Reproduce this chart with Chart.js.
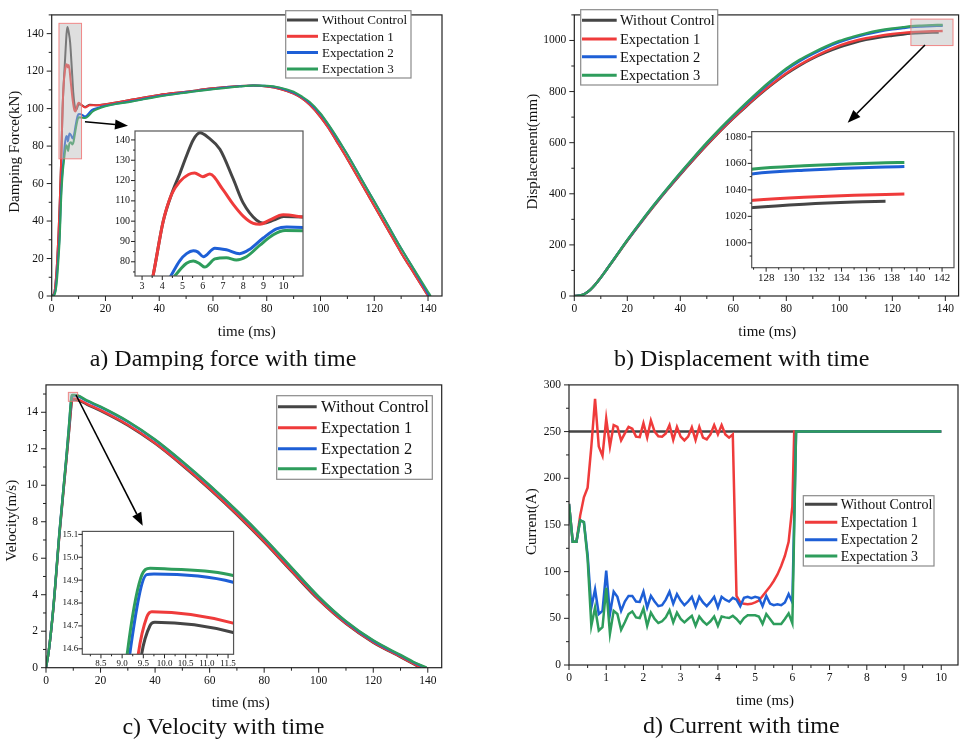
<!DOCTYPE html>
<html>
<head>
<meta charset="utf-8">
<script src="https://cdn.jsdelivr.net/npm/chart.js@4.4.1/dist/chart.umd.min.js"></script>
<style>
body { margin: 0; background: #fff; }
#wrap { position: relative; width: 960px; height: 741px; overflow: hidden; background: #fff; }
canvas { position: absolute; }
</style>
</head>
<body>
<div id="wrap">
  <canvas id="cA" width="480" height="370" style="left:0px;top:0px"></canvas>
  <canvas id="cB" width="480" height="370" style="left:480px;top:0px"></canvas>
  <canvas id="cC" width="480" height="371" style="left:0px;top:370px"></canvas>
  <canvas id="cD" width="480" height="371" style="left:480px;top:370px"></canvas>
  <canvas id="iA" width="205" height="180" style="left:105px;top:120px"></canvas>
  <canvas id="iB" width="240" height="170" style="left:720px;top:120px"></canvas>
  <canvas id="iC" width="185" height="155" style="left:55px;top:522px"></canvas>
</div>
<script>
// ---- series names / colours ----
const seriesNames = ['Without Control', 'Expectation 1', 'Expectation 2', 'Expectation 3'];
const seriesColors = ['#454545', '#ef3b3b', '#1e5fd6', '#2e9d5c'];

// ---- a) damping force (kN) vs time (ms) ----
const forceTimeWithout = [0, 1, 1.5, 2, 2.5, 3, 3.55, 4.04, 4.45, 4.87, 5.2, 5.53, 5.86, 6.3, 6.85, 7.5, 8.0, 8.66, 9.0, 9.5, 10.0, 11.0, 12.4, 14.2, 17, 20, 30, 40, 50, 60, 70, 75, 80, 85, 90, 93, 96, 100, 103, 106, 110, 115, 120, 125, 130, 135, 140];
const forceWithout = [0, 2, 8, 18, 32, 50, 73.5, 99.7, 113, 123.5, 132.2, 140, 143.5, 141, 135.4, 121, 109, 100.5, 99, 100.5, 102.3, 102, 100.9, 102, 101.8, 102.3, 104.8, 107.3, 109, 110.8, 112, 112.3, 111.8, 110.5, 108, 105.5, 102, 95.5, 89.5, 82.5, 73, 60.5, 48, 35.5, 23, 11.5, 0];
const forceTimeExp1 = [0, 1, 1.5, 2, 2.5, 3, 3.55, 4.04, 4.45, 4.87, 5.3, 5.6, 6.0, 6.35, 7.0, 7.5, 8.0, 8.5, 8.83, 9.3, 9.98, 11.0, 12.4, 14.2, 17, 20, 30, 40, 50, 60, 70, 75, 80, 85, 90, 93, 96, 100, 103, 106, 110, 115, 120, 125, 130, 135, 140];
const forceExp1 = [0, 2, 8, 18, 32, 50, 73.5, 99.7, 113, 119.5, 123, 123.7, 121.9, 123.2, 115.5, 108.4, 102.5, 98.9, 98.5, 100.5, 103.1, 102, 100.6, 101.8, 101.8, 102.3, 104.8, 107.3, 109, 110.8, 112, 112.3, 111.8, 110.5, 108, 105.5, 102, 95.5, 89.5, 82.5, 73, 60.5, 48, 35.5, 23, 11.5, 0];
const forceTimeExp2 = [0, 1, 1.5, 2, 2.5, 3, 3.5, 4.0, 4.42, 4.87, 5.2, 5.53, 5.75, 6.03, 6.6, 7.17, 7.83, 8.33, 8.99, 9.65, 10.15, 11, 12.4, 14.9, 17, 20, 30, 40, 50, 60, 70, 75, 80, 85, 90, 93, 96, 100, 103, 106, 110, 115, 120, 125, 130, 135, 140.5];
const forceExp2 = [0, 1, 4, 12, 22, 34, 55, 66, 73, 80.6, 84, 85.4, 84.9, 82.5, 86.7, 85.9, 84, 86.2, 91.7, 96.2, 97.1, 96.9, 95.8, 99.2, 100.3, 101.5, 104, 106.7, 108.7, 110.5, 111.9, 112.3, 112.1, 111, 108.5, 106.2, 103, 97, 91.2, 84.5, 75.5, 63, 50.5, 38, 25.5, 13.5, 0];
const forceTimeExp3 = [0, 1, 1.5, 2, 2.5, 3, 3.5, 4.0, 4.62, 5.2, 5.53, 5.86, 6.1, 6.6, 7.17, 7.66, 8.16, 8.83, 9.49, 10.07, 11, 12.4, 15.4, 17, 20, 30, 40, 50, 60, 70, 75, 80, 85, 90, 93, 96, 100, 103, 106, 110, 115, 120, 125, 130, 135, 140, 141];
const forceExp3 = [0, 0.5, 3, 9, 19, 31, 51, 64, 73, 79.3, 80.4, 79, 77.4, 81.4, 82, 80.9, 82.5, 88.2, 93.3, 95.4, 95.3, 95, 98.6, 99.8, 101.3, 103.8, 106.5, 108.5, 110.3, 111.8, 112.3, 112.2, 111.2, 109, 106.5, 103.5, 97.5, 91.5, 85, 75.5, 63, 50.5, 38, 25.5, 13.8, 2.3, 0];

// ---- b) displacement (mm) vs time (ms) ----
const dispTime = [0, 2, 4, 6, 8, 10, 12, 15, 20, 25, 30, 35, 40, 45, 50, 55, 60, 65, 70, 75, 80, 85, 90, 95, 100, 105, 110, 115, 120, 124, 127, 131, 135, 137.5, 139];
const dispWithout = [0, 2, 9, 24, 46, 72, 100.5, 144, 216.5, 285, 351, 414.5, 475, 533.5, 590, 644, 695, 742.5, 788, 830, 868.5, 901.5, 929.5, 953, 973, 989, 1002, 1011.5, 1018.5, 1023.5, 1026.6, 1029.2, 1030.8, 1031.3];
const dispExp1 = [0, 2, 9, 24, 46, 72, 100.5, 144, 217, 286, 352, 415.5, 476.5, 535, 592, 646, 697, 745, 791, 833, 872, 905, 933, 958, 980, 996, 1008.5, 1018, 1025, 1029.5, 1032.2, 1034.5, 1036, 1036.5, 1036.8];
const dispExp2 = [0, 2, 9, 24, 46, 72, 101, 145, 218.5, 288, 355, 418.5, 480.5, 540, 597.5, 652.5, 704, 753, 801, 845, 885.5, 919, 947, 972, 993, 1010, 1024, 1035, 1043.5, 1048.5, 1052.2, 1054.8, 1056.5, 1057.2, 1057.6];
const dispExp3 = [0, 2, 9, 24, 46, 72, 101, 145, 219, 289, 356, 420, 482, 542, 600, 655, 707, 757, 805, 849, 890, 924, 952, 977, 998, 1014, 1028, 1039, 1047, 1052, 1055.8, 1058.2, 1059.8, 1060.4, 1060.7];

// ---- c) velocity (m/s) vs time (ms) ----
const velTimeWithout = [0, 1, 2.6, 5, 7.5, 8.5, 9.46, 9.66, 9.77, 11.62, 15, 20, 30, 40, 50, 60, 70, 80, 90, 100, 110, 120, 130, 135, 137.2];
const velWithout = [0, 0.9, 3.1, 7.4, 11.4, 13.0, 14.576, 14.702, 14.716, 14.671, 14.42, 14.08, 13.28, 12.28, 11.08, 9.78, 8.38, 6.88, 5.28, 3.71, 2.4, 1.37, 0.58, 0.18, 0];
const velTimeExp1 = [0, 1, 2.6, 5, 7.5, 8.5, 9.38, 9.58, 9.7, 11.62, 15, 20, 30, 40, 50, 60, 70, 80, 90, 100, 110, 120, 130, 135, 137.5];
const velExp1 = [0, 0.9, 3.1, 7.45, 11.45, 13.1, 14.576, 14.738, 14.762, 14.712, 14.46, 14.12, 13.32, 12.32, 11.12, 9.82, 8.42, 6.92, 5.32, 3.75, 2.43, 1.4, 0.6, 0.2, 0];
const velTimeExp2 = [0, 1, 2.6, 5, 7.5, 8.5, 9.18, 9.58, 9.75, 11.62, 15, 20, 30, 40, 50, 60, 70, 80, 90, 100, 110, 120, 130, 135, 139.3];
const velExp2 = [0, 0.9, 3.14, 7.55, 11.6, 13.35, 14.576, 14.924, 14.927, 14.891, 14.62, 14.28, 13.48, 12.48, 11.28, 9.98, 8.58, 7.08, 5.47, 3.87, 2.52, 1.47, 0.67, 0.28, 0];
const velTimeExp3 = [0, 1, 2.6, 5, 7.5, 8.5, 9.12, 9.44, 9.66, 10, 11.62, 15, 20, 30, 40, 50, 60, 70, 80, 90, 100, 110, 120, 130, 135, 139.6];
const velExp3 = [0, 0.9, 3.14, 7.55, 11.6, 13.4, 14.578, 14.91, 14.952, 14.95, 14.92, 14.65, 14.31, 13.51, 12.51, 11.31, 10.01, 8.61, 7.11, 5.5, 3.9, 2.55, 1.5, 0.7, 0.3, 0];

// ---- d) current (A) vs time (ms) ----
const currentTimeWithout = [0, 10];
const currentWithout = [250, 250];
const currentTimeExp1 = [0, 0.1, 0.2, 0.3, 0.4, 0.5, 0.6, 0.7, 0.8, 0.9, 1, 1.1, 1.2, 1.3, 1.4, 1.5, 1.6, 1.7, 1.8, 1.9, 2, 2.1, 2.2, 2.3, 2.4, 2.5, 2.6, 2.7, 2.8, 2.9, 3, 3.1, 3.2, 3.3, 3.4, 3.5, 3.6, 3.7, 3.8, 3.9, 4, 4.1, 4.2, 4.3, 4.4, 4.5, 4.6, 4.7, 4.8, 4.9, 5, 5.1, 5.2, 5.3, 5.4, 5.5, 5.6, 5.7, 5.8, 5.9, 6, 6.05, 10];
const currentExp1 = [172.5, 132, 132, 160, 179.6, 190, 234, 285, 234, 224,
  264, 234, 257, 255, 240.5, 248, 255, 253, 244.6, 244,
  259, 243.5, 262, 250, 245, 244.6, 248, 257, 241, 255,
  244.6, 240.5, 244.6, 254.5, 241, 255, 243.5, 241.7, 247, 257,
  247, 257, 247, 243.5, 247, 74, 67, 65.5, 65, 65.5,
  67, 69, 74, 79, 84, 90, 97, 106, 117, 132,
  170, 250, 250];
const currentTime = [0, 0.1, 0.2, 0.3, 0.4, 0.5, 0.6, 0.7, 0.8, 0.9, 1, 1.1, 1.2, 1.3, 1.4, 1.5, 1.6, 1.7, 1.8, 1.9, 2, 2.1, 2.2, 2.3, 2.4, 2.5, 2.6, 2.7, 2.8, 2.9, 3, 3.1, 3.2, 3.3, 3.4, 3.5, 3.6, 3.7, 3.8, 3.9, 4, 4.1, 4.2, 4.3, 4.4, 4.5, 4.6, 4.7, 4.8, 4.9, 5, 5.1, 5.2, 5.3, 5.4, 5.5, 5.6, 5.7, 5.8, 5.9, 6, 6.1, 10];
const currentExp2 = [172.5, 132, 132, 155, 153, 118, 61.6, 81, 54.6, 58,
  101, 54.6, 78.5, 73, 58, 68, 74, 74, 68, 67.6,
  78.5, 61.6, 74, 68, 63, 64, 70, 78.5, 65.7, 76,
  69, 64, 68, 73, 62, 73, 67, 63, 67.6, 73,
  61.6, 73, 70, 68, 72, 70, 63, 72, 73, 71.6,
  73, 72, 63, 74, 65.7, 64, 65, 64, 67, 76,
  67, 250, 250];
const currentExp3 = [172.5, 132, 132, 155, 153, 114, 42, 61.6, 37, 40.5,
  82.7, 33.5, 58, 54.6, 37.7, 45.7, 54.6, 57.4, 51, 50.3,
  60.5, 42, 56, 49.3, 45, 46.8, 51, 58.7, 45.7, 56,
  49.3, 45.7, 49.3, 52.6, 42, 52, 46.8, 43.3, 46.8, 52,
  42, 52, 51, 50.3, 52.6, 49.3, 44.7, 50.3, 53.3, 53.3,
  53.3, 52, 44, 54.6, 49.3, 44, 44, 44, 49.3, 55.3,
  44.7, 250, 250];

const SERIF = "'Liberation Serif', 'Times New Roman', serif";
Chart.defaults.font.family = SERIF;
Chart.defaults.color = '#111';

function pts(xs, ys) {
  return ys.map((v, i) => ({ x: xs[i], y: v }));
}

function markTicks(ctx, scale, minor, major, horizontal, edge, big, small) {
  if (!minor) return;
  const i0 = Math.ceil(scale.min / minor - 1e-9);
  ctx.strokeStyle = '#222';
  ctx.lineWidth = 1;
  for (let i = i0; i * minor <= scale.max + 1e-9; i++) {
    const v = i * minor;
    const isMajor = Math.abs(v / major - Math.round(v / major)) < 1e-6;
    const len = isMajor ? big : small;
    const p = scale.getPixelForValue(v);
    ctx.beginPath();
    if (horizontal) { ctx.moveTo(p, edge); ctx.lineTo(p, edge + len); }
    else { ctx.moveTo(edge, p); ctx.lineTo(edge - len, p); }
    ctx.stroke();
  }
}

function drawArrow(ctx, a) {
  const [x1, y1, x2, y2] = a;
  const ang = Math.atan2(y2 - y1, x2 - x1), L = 13, W = 5;
  const bx = x2 - L * Math.cos(ang), by = y2 - L * Math.sin(ang);
  ctx.strokeStyle = '#000';
  ctx.lineWidth = 1.6;
  ctx.beginPath(); ctx.moveTo(x1, y1); ctx.lineTo(bx, by); ctx.stroke();
  ctx.fillStyle = '#000';
  ctx.beginPath();
  ctx.moveTo(x2, y2);
  ctx.lineTo(bx + W * Math.sin(ang), by - W * Math.cos(ang));
  ctx.lineTo(bx - W * Math.sin(ang), by + W * Math.cos(ang));
  ctx.closePath();
  ctx.fill();
}

function drawLegend(ctx, chart, L) {
  ctx.fillStyle = '#fff';
  ctx.fillRect(L.x, L.y, L.w, L.h);
  ctx.strokeStyle = '#8a8a8a';
  ctx.lineWidth = 1.2;
  ctx.strokeRect(L.x, L.y, L.w, L.h);
  ctx.font = L.size + 'px ' + SERIF;
  ctx.textBaseline = 'middle';
  ctx.textAlign = 'left';
  chart.data.datasets.forEach((ds, i) => {
    const yy = L.rows[i];
    ctx.strokeStyle = ds.borderColor;
    ctx.lineWidth = 3;
    ctx.beginPath(); ctx.moveTo(L.x1, yy); ctx.lineTo(L.x2, yy); ctx.stroke();
    ctx.fillStyle = '#111';
    ctx.fillText(ds.label, L.tx, yy + 1);
  });
}

// frame, minor ticks, legend, zoom box, arrow, titles
const decor = {
  id: 'decor',
  beforeDraw(chart, args, o) {
    if (!o.white) return;
    const a = chart.chartArea, ctx = chart.ctx;
    ctx.save();
    ctx.fillStyle = '#fff';
    ctx.fillRect(a.left, a.top, a.right - a.left, a.bottom - a.top);
    ctx.restore();
  },
  afterDraw(chart, args, o) {
    const ctx = chart.ctx, a = chart.chartArea, sx = chart.scales.x, sy = chart.scales.y;
    ctx.save();
    if (o.zoomBox) {
      const b = o.zoomBox;
      const l = sx.getPixelForValue(b[0]), r = sx.getPixelForValue(b[1]);
      const t = sy.getPixelForValue(b[3]), btm = sy.getPixelForValue(b[2]);
      ctx.fillStyle = 'rgba(185,185,185,0.45)';
      ctx.fillRect(l, t, r - l, btm - t);
      ctx.strokeStyle = 'rgba(240,110,110,0.8)';
      ctx.lineWidth = 1;
      ctx.strokeRect(l, t, r - l, btm - t);
    }
    ctx.strokeStyle = o.frame || '#222';
    ctx.lineWidth = 1.2;
    ctx.strokeRect(a.left, a.top, a.right - a.left, a.bottom - a.top);
    const big = o.inset ? 4 : 5, small = o.inset ? 2 : 3;
    markTicks(ctx, sx, o.xMinor, o.xMajor, true, a.bottom, big, small);
    markTicks(ctx, sy, o.yMinor, o.yMajor, false, a.left, big, small);
    if (o.legend) drawLegend(ctx, chart, o.legend);
    if (o.arrow) drawArrow(ctx, o.arrow);
    ctx.fillStyle = '#111';
    ctx.textAlign = 'center';
    ctx.textBaseline = 'middle';
    if (o.xTitle) {
      ctx.font = '15px ' + SERIF;
      ctx.fillText(o.xTitle.text, o.xTitle.x, o.xTitle.y);
    }
    if (o.yTitle) {
      ctx.font = '15px ' + SERIF;
      ctx.save();
      ctx.translate(o.yTitle.x, o.yTitle.y);
      ctx.rotate(-Math.PI / 2);
      ctx.fillText(o.yTitle.text, 0, 0);
      ctx.restore();
    }
    if (o.caption) {
      ctx.font = '24px ' + SERIF;
      ctx.textBaseline = 'alphabetic';
      ctx.fillText(o.caption.text, o.caption.x, o.caption.y);
    }
    ctx.restore();
  }
};

function panel(id, p) {
  const datasets = p.series.map((s, i) => ({
    label: seriesNames[i],
    data: s,
    borderColor: seriesColors[i],
    backgroundColor: seriesColors[i],
    borderWidth: p.lw,
    pointRadius: 0,
    fill: false,
    tension: 0,
    cubicInterpolationMode: p.smooth ? 'monotone' : 'default',
    order: 4 - i
  }));
  const axis = (ax, fit) => ({
    type: 'linear',
    min: ax.min,
    max: ax.max,
    afterFit: fit,
    grid: { display: false, drawTicks: false },
    border: { display: false },
    ticks: {
      stepSize: ax.step,
      includeBounds: false,
      autoSkip: false,
      maxRotation: 0,
      padding: ax.pad,
      color: '#111',
      font: { size: p.tickSize },
      callback: ax.fmt ? (v) => v.toFixed(ax.fmt) : undefined
    }
  });
  return new Chart(document.getElementById(id), {
    type: 'line',
    data: { datasets },
    options: {
      responsive: false,
      animation: false,
      events: [],
      layout: { padding: { top: p.top, right: p.right, left: 0, bottom: 0 } },
      plugins: {
        legend: { display: false },
        tooltip: { enabled: false },
        decor: p.decor
      },
      scales: {
        x: axis(p.x, (s) => { s.height = p.xh; }),
        y: axis(p.y, (s) => { s.width = p.yw; })
      }
    },
    plugins: [decor]
  });
}

const forceSeries = [pts(forceTimeWithout, forceWithout), pts(forceTimeExp1, forceExp1), pts(forceTimeExp2, forceExp2), pts(forceTimeExp3, forceExp3)];
const dispSeries = [pts(dispTime, dispWithout), pts(dispTime, dispExp1), pts(dispTime, dispExp2), pts(dispTime, dispExp3)];
const velSeries = [pts(velTimeWithout, velWithout), pts(velTimeExp1, velExp1), pts(velTimeExp2, velExp2), pts(velTimeExp3, velExp3)];
const currentSeries = [pts(currentTimeWithout, currentWithout), pts(currentTimeExp1, currentExp1), pts(currentTime, currentExp2), pts(currentTime, currentExp3)];

// a) damping force
panel('cA', {
  series: forceSeries, lw: 2, smooth: true, tickSize: 11.5,
  top: 7, right: 38, yw: 51.7, xh: 74,
  x: { min: 0, max: 145.2, step: 20, pad: 6 },
  y: { min: 0, max: 150, step: 20, pad: 8 },
  decor: {
    xMinor: 10, xMajor: 20, yMinor: 10, yMajor: 20,
    zoomBox: [2.7, 11.1, 73.2, 145.5],
    arrow: [85, 121.7, 128, 125.7],
    legend: { x: 285.7, y: 10.7, w: 125.3, h: 67.3, rows: [20, 36.3, 52.5, 69], x1: 287, x2: 318, tx: 322, size: 13 },
    xTitle: { text: 'time (ms)', x: 246.7, y: 332 },
    yTitle: { text: 'Damping Force(kN)', x: 15, y: 151.7 },
    caption: { text: 'a) Damping force with time', x: 223, y: 366 }
  }
});
panel('iA', {
  series: forceSeries, lw: 3, smooth: true, tickSize: 10,
  top: 6, right: 7, yw: 30, xh: 24,
  x: { min: 2.65, max: 10.96, step: 1, pad: 4 },
  y: { min: 73, max: 144.4, step: 10, pad: 5 },
  decor: { white: true, inset: true, frame: '#555', xMinor: 0.5, xMajor: 1, yMinor: 5, yMajor: 10 }
});

// b) displacement
panel('cB', {
  series: dispSeries, lw: 2.4, smooth: true, tickSize: 11.5,
  top: 6.7, right: 1, yw: 94.3, xh: 74,
  x: { min: 0, max: 145, step: 20, pad: 6 },
  y: { min: 0, max: 1100, step: 200, pad: 8 },
  decor: {
    xMinor: 10, xMajor: 20, yMinor: 100, yMajor: 200,
    zoomBox: [127, 142.9, 980, 1083.6],
    arrow: [445, 45, 367.7, 122.7],
    legend: { x: 100.7, y: 9.7, w: 137, h: 75.3, rows: [20.3, 39, 56.7, 75.3], x1: 102, x2: 136.7, tx: 140, size: 14.5 },
    xTitle: { text: 'time (ms)', x: 287.3, y: 332 },
    yTitle: { text: 'Displacement(mm)', x: 53.3, y: 151.7 },
    caption: { text: 'b) Displacement with time', x: 261.7, y: 366 }
  }
});
panel('iB', {
  series: dispSeries, lw: 3, smooth: true, tickSize: 11,
  top: 7.3, right: 6, yw: 31.7, xh: 22.3,
  x: { min: 126.85, max: 142.95, step: 2, pad: 4 },
  y: { min: 981.2, max: 1084, step: 20, pad: 5 },
  decor: { white: true, inset: true, frame: '#555', xMinor: 1, xMajor: 2, yMinor: 10, yMajor: 20 }
});

// c) velocity
panel('cC', {
  series: velSeries, lw: 2.4, smooth: true, tickSize: 11.5,
  top: 4.3, right: 38.3, yw: 46, xh: 73.3,
  x: { min: 0, max: 145.1, step: 20, pad: 6 },
  y: { min: 0, max: 15.5, step: 2, pad: 8 },
  decor: {
    xMinor: 10, xMajor: 20, yMinor: 1, yMajor: 2,
    zoomBox: [8.2, 11.6, 14.6, 15.09],
    arrow: [76, 25, 142.7, 155.7],
    legend: { x: 276.7, y: 25.7, w: 155.6, h: 83.6, rows: [36.7, 57.7, 78.7, 98.7], x1: 278, x2: 316.7, tx: 321, size: 16.5 },
    xTitle: { text: 'time (ms)', x: 240.7, y: 333.3 },
    yTitle: { text: 'Velocity(m/s)', x: 12.3, y: 150.7 },
    caption: { text: 'c) Velocity with time', x: 223.4, y: 364 }
  }
});
panel('iC', {
  series: velSeries, lw: 3, smooth: true, tickSize: 9,
  top: 7.3, right: 6.3, yw: 27.3, xh: 22.7,
  x: { min: 8.06, max: 11.63, step: 0.5, pad: 4, fmt: 1 },
  y: { min: 14.576, max: 15.113, step: 0.1, pad: 4, fmt: 1 },
  decor: { white: true, inset: true, frame: '#555', xMinor: 0.25, xMajor: 0.5, yMinor: 0.05, yMajor: 0.1 }
});

// d) current
panel('cD', {
  series: currentSeries, lw: 2.5, smooth: false, tickSize: 11.5,
  top: 11, right: 2, yw: 89, xh: 76,
  x: { min: 0, max: 10.45, step: 1, pad: 6 },
  y: { min: 0, max: 300, step: 50, pad: 8 },
  decor: {
    xMinor: 0.5, xMajor: 1, yMinor: 25, yMajor: 50,
    legend: { x: 323.3, y: 125.7, w: 130.7, h: 70.3, rows: [134.3, 152.3, 169.7, 186], x1: 325, x2: 357.3, tx: 360.7, size: 14 },
    xTitle: { text: 'time (ms)', x: 285, y: 330.7 },
    yTitle: { text: 'Current(A)', x: 52.3, y: 151.7 },
    caption: { text: 'd) Current with time', x: 261.3, y: 363 }
  }
});
</script>
</body>
</html>
